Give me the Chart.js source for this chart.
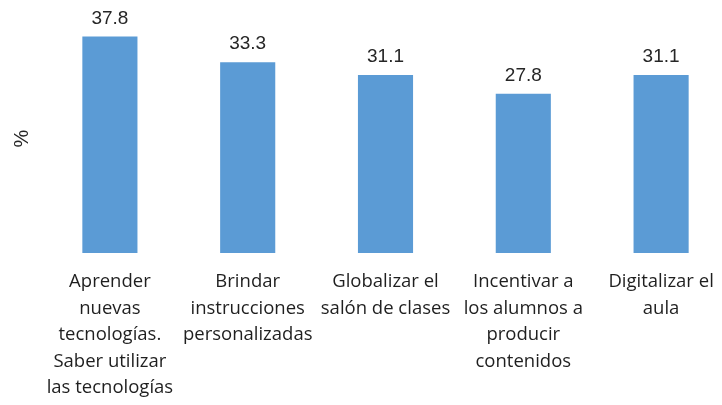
<!DOCTYPE html>
<html lang="es">
<head>
  <meta charset="UTF-8">
  <title>%</title>
  <script src="https://cdn.jsdelivr.net/npm/chart.js"></script>
</head>
<body style="margin:0; background:#fff; overflow:hidden;">

  <!-- chart is a bit wider than the window, the right edge gets cut like in the source -->
  <div style="position:relative; width:730px; height:405px;">
    <canvas id="chart"></canvas>
  </div>

  <script>
    // DATA
    const categories = [
      ['Aprender', 'nuevas', 'tecnologías.', 'Saber utilizar', 'las tecnologías'],
      ['Brindar', 'instrucciones', 'personalizadas'],
      ['Globalizar el', 'salón de clases'],
      ['Incentivar a', 'los alumnos a', 'producir', 'contenidos'],
      ['Digitalizar el', 'aula']
    ];
    const values = [37.8, 33.3, 31.1, 27.8, 31.1];
    const yTitle = '%';
    const yMin = 0;
    const yMax = 40;

    // value labels above bars
    const valueLabels = {
      id: 'valueLabels',
      afterDatasetsDraw(chart) {
        const ctx = chart.ctx;
        const meta = chart.getDatasetMeta(0);
        ctx.save();
        ctx.font = '19px "Liberation Sans", Arial, sans-serif';
        ctx.fillStyle = '#262626';
        ctx.textAlign = 'center';
        ctx.textBaseline = 'alphabetic';
        meta.data.forEach((bar, i) => {
          ctx.fillText(values[i].toFixed(1), bar.x, bar.y - 13);
        });
        ctx.restore();
      }
    };

    const ctx = document.getElementById('chart').getContext('2d');
    new Chart(ctx, {
      type: 'bar',
      data: {
        labels: categories,
        datasets: [{
          data: values,
          backgroundColor: '#5b9bd5',
          borderWidth: 0,
          categoryPercentage: 1,
          barPercentage: 0.4
        }]
      },
      options: {
        responsive: true,
        maintainAspectRatio: false,
        animation: false,
        layout: { padding: { top: 24, right: 0, bottom: 0, left: 0 } },
        plugins: {
          legend: { display: false },
          tooltip: { enabled: false }
        },
        scales: {
          x: {
            grid: { display: false },
            border: { display: false },
            ticks: {
              color: '#1f1f1f',
              font: { family: '"Open Sans", sans-serif', size: 18.5, lineHeight: 1.43 },
              padding: 8,
              maxRotation: 0,
              autoSkip: false
            },
            afterFit(scale) { scale.height = 152; }
          },
          y: {
            min: yMin,
            max: yMax,
            grid: { display: false },
            border: { display: false },
            ticks: { display: false },
            title: {
              display: true,
              text: yTitle,
              color: '#262626',
              font: { family: '"Liberation Sans", Arial, sans-serif', size: 20 },
              padding: { top: 10, bottom: 4 }
            },
            afterFit(scale) { scale.width = 41; }
          }
        }
      },
      plugins: [valueLabels]
    });
  </script>

</body>
</html>
